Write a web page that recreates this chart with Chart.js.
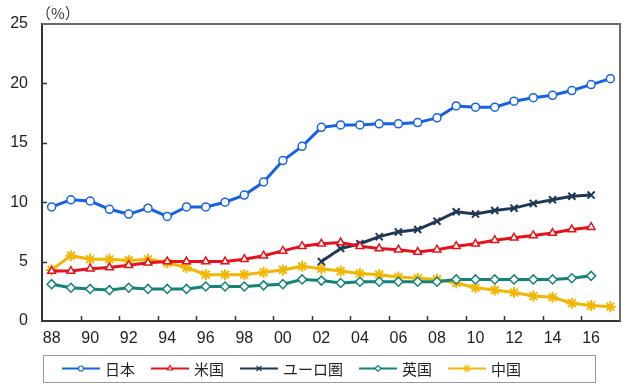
<!DOCTYPE html>
<html lang="ja">
<head>
  <meta charset="UTF-8" />
  <title>Chart</title>
  <style>
    html, body { margin: 0; padding: 0; background: #fff; }
    #wrap { width: 640px; height: 391px; }
  </style>
</head>
<body>
  <div id="wrap"><canvas id="myChart" width="640" height="391"></canvas></div>

  <script src="https://cdn.jsdelivr.net/npm/chart.js"></script>
  <script>
    const ctx = document.getElementById('myChart');

// 1988 .. 2017, two-digit labels
const YEARS = ['88','89','90','91','92','93','94','95','96','97','98','99','00','01','02',
  '03','04','05','06','07','08','09','10','11','12','13','14','15','16','17'];
const Y_TICKS = [0, 5, 10, 15, 20, 25];

const japan = [9.6, 10.2, 10.1, 9.4, 9.0, 9.5, 8.8, 9.6, 9.6, 10.0, 10.6, 11.7, 13.5, 14.7, 16.3,
  16.5, 16.5, 16.6, 16.6, 16.7, 17.1, 18.1, 18.0, 18.0, 18.5, 18.8, 19.0, 19.4, 19.9, 20.4];
const usa = [4.2, 4.2, 4.4, 4.5, 4.7, 4.9, 5.0, 5.0, 5.0, 5.0, 5.2, 5.5, 5.9, 6.3, 6.5,
  6.6, 6.3, 6.1, 6.0, 5.8, 6.0, 6.3, 6.5, 6.8, 7.0, 7.2, 7.4, 7.7, 7.9, null];
const euro = [null, null, null, null, null, null, null, null, null, null, null, null, null, null, 5.0,
  6.1, 6.5, 7.1, 7.5, 7.7, 8.4, 9.2, 9.0, 9.3, 9.5, 9.9, 10.2, 10.5, 10.6, null];
const uk = [3.1, 2.8, 2.7, 2.6, 2.8, 2.7, 2.7, 2.7, 2.9, 2.9, 2.9, 3.0, 3.1, 3.5, 3.4,
  3.2, 3.3, 3.3, 3.3, 3.3, 3.3, 3.5, 3.5, 3.5, 3.5, 3.5, 3.5, 3.6, 3.8, null];
const china = [4.3, 5.5, 5.2, 5.2, 5.1, 5.2, 4.9, 4.5, 3.9, 3.9, 3.9, 4.1, 4.3, 4.6, 4.4,
  4.2, 4.0, 3.9, 3.7, 3.6, 3.5, 3.2, 2.8, 2.6, 2.4, 2.1, 2.0, 1.5, 1.3, 1.2];

const NUM_FONT = { family: '"Liberation Sans", Arial, sans-serif', size: 16 };
const JP_FONT = '"Noto Sans CJK JP", sans-serif';

function series(label, values, color, style, radius, fill) {
  return {
    label: label,
    data: values,
    borderColor: color,
    backgroundColor: fill ? '#ffffff' : color,
    pointBorderColor: color,
    pointBackgroundColor: fill ? '#ffffff' : color,
    borderWidth: 3,
    pointStyle: style,
    pointRadius: radius,
    pointBorderWidth: fill ? 1.5 : 2,
    tension: 0,
  };
}

const data = {
  labels: YEARS,
  datasets: [
    series('日本', japan, '#1762e2', 'circle', 4, true),
    series('米国', usa, '#e5121c', 'triangle', 4.5, true),
    series('ユーロ圏', euro, '#203756', 'crossRot', 5, false),
    series('英国', uk, '#148276', 'rectRot', 4.5, true),
    series('中国', china, '#f2b705', 'star', 5.5, false),
  ]
};

// frame, inner tick marks, unit label and boxed legend
const decorations = {
  id: 'decorations',
  afterDraw(chart) {
    const c = chart.ctx;
    const a = chart.chartArea;
    const xs = chart.scales.x;
    const ys = chart.scales.y;
    c.save();

    // top/right frame in grey
    c.strokeStyle = '#6b6b6b';
    c.lineWidth = 2;
    c.beginPath();
    c.moveTo(a.left, a.top);
    c.lineTo(a.right, a.top);
    c.lineTo(a.right, a.bottom);
    c.stroke();

    // ticks pointing inside
    c.strokeStyle = '#333';
    c.lineWidth = 1.5;
    c.beginPath();
    Y_TICKS.slice(1, -1).forEach(v => {
      const y = Math.round(ys.getPixelForValue(v)) + 0.5;
      c.moveTo(a.left, y);
      c.lineTo(a.left + 5, y);
    });
    for (let i = 2; i < YEARS.length; i += 2) {
      const x = Math.round((xs.getPixelForValue(i - 1) + xs.getPixelForValue(i)) / 2) + 0.5;
      c.moveTo(x, a.bottom);
      c.lineTo(x, a.bottom - 5);
    }
    c.stroke();

    // unit
    c.fillStyle = '#333';
    c.font = '15px ' + JP_FONT;
    c.textBaseline = 'middle';
    c.textAlign = 'left';
    c.fillText('（%）', 36, 13);

    // legend
    const top = 355, bottom = 382, mid = (top + bottom) / 2;
    c.strokeStyle = '#9a9a9a';
    c.lineWidth = 1;
    c.strokeRect(43.5, top + 0.5, 552, bottom - top);
    c.font = '15px ' + JP_FONT;
    let x = 62;
    chart.data.datasets.forEach(ds => {
      c.strokeStyle = ds.borderColor;
      c.lineWidth = 2;
      c.beginPath();
      c.moveTo(x, mid);
      c.lineTo(x + 38, mid);
      c.stroke();
      c.fillStyle = ds.pointBackgroundColor;
      c.strokeStyle = ds.pointBorderColor;
      c.lineWidth = 1.2;
      Chart.helpers.drawPoint(c, {
        pointStyle: ds.pointStyle,
        radius: Math.max(2.5, ds.pointRadius - 1.5),
        borderWidth: 1.2,
        rotation: 0
      }, x + 19, mid);
      c.fillStyle = '#222';
      c.fillText(ds.label, x + 43, mid + 1);
      x += 43 + c.measureText(ds.label).width + 16;
    });

    c.restore();
  }
};

    new Chart(ctx, {
      type: 'line',
      data: data,
      plugins: [decorations],
      options: {
        responsive: false,
        animation: false,
        layout: { padding: { top: 24, right: 20, bottom: 40, left: 0 } },
        scales: {
          x: {
            type: 'category',
            offset: true,
            afterFit: (scale) => { scale.height = 30; },
            grid: { display: false },
            border: { display: true, color: '#333', width: 2 },
            ticks: {
              autoSkip: false,
              maxRotation: 0,
              padding: 0,
              color: '#222',
              font: NUM_FONT,
              callback: function (value, index) {
                return index % 2 === 0 ? this.getLabelForValue(value) : '';
              }
            }
          },
          y: {
            min: 0,
            max: 25,
            afterFit: (scale) => { scale.width = 42; },
            grid: { display: false },
            border: { display: true, color: '#333', width: 2 },
            ticks: {
              stepSize: 5,
              padding: 6,
              color: '#222',
              font: NUM_FONT
            }
          }
        },
        plugins: {
          legend: { display: false },
          tooltip: { enabled: false }
        }
      },
    });
  </script>
</body>
</html>
